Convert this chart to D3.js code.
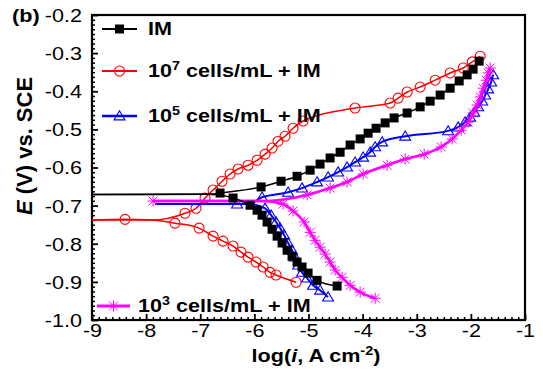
<!DOCTYPE html>
<html><head><meta charset="utf-8">
<script src="https://cdn.jsdelivr.net/npm/d3@7"></script>
<style>
html,body{margin:0;padding:0;background:#fff;}
svg text{font-family:"Liberation Sans",Arial,sans-serif;}
</style></head>
<body><svg id="chart" width="543" height="378"></svg>
<script>
// ---------------- data (log i [A cm-2], E [V vs SCE]) ----------------
const xTicks = [-9, -8, -7, -6, -5, -4, -3, -2, -1];
const yTicks = [-1.0, -0.9, -0.8, -0.7, -0.6, -0.5, -0.4, -0.3, -0.2];
const xTickLabels = ["-9", "-8", "-7", "-6", "-5", "-4", "-3", "-2", "-1"];
const yTickLabels = ["-1.0", "-0.9", "-0.8", "-0.7", "-0.6", "-0.5", "-0.4", "-0.3", "-0.2"];

const seriesNames = ["IM", "10^7 cells/mL + IM", "10^5 cells/mL + IM", "10^3 cells/mL + IM"];

// IM
const imFlat = [[-9, -0.671], [-6.8, -0.670]];
const imAnod = [[-6.634,-0.667],[-5.876,-0.651],[-5.507,-0.636],[-5.211,-0.623],[-4.970,-0.607],[-4.786,-0.591],[-4.601,-0.575],[-4.416,-0.560],[-4.231,-0.541],[-4.046,-0.525],[-3.898,-0.510],[-3.751,-0.497],[-3.584,-0.483],[-3.418,-0.470],[-3.178,-0.457],[-2.937,-0.441],[-2.752,-0.426],[-2.568,-0.410],[-2.383,-0.392],[-2.216,-0.373],[-2.069,-0.357],[-1.958,-0.342],[-1.847,-0.321]];
const imCath = [[-6.394,-0.680],[-6.080,-0.699],[-5.950,-0.712],[-5.858,-0.725],[-5.765,-0.743],[-5.673,-0.762],[-5.580,-0.780],[-5.488,-0.798],[-5.396,-0.817],[-5.304,-0.833],[-5.211,-0.848],[-5.119,-0.861],[-5.008,-0.877],[-4.841,-0.896],[-4.471,-0.911]];

// 10^7 cells/mL + IM
const c7Flat = [[-9, -0.738], [-7.9, -0.738]];
const c7Anod = [[-7.281,-0.720],[-7.078,-0.707],[-6.911,-0.680],[-6.763,-0.659],[-6.597,-0.636],[-6.449,-0.617],[-6.301,-0.604],[-6.116,-0.594],[-5.950,-0.581],[-5.802,-0.565],[-5.673,-0.549],[-5.562,-0.531],[-5.433,-0.518],[-5.285,-0.497],[-5.100,-0.478],[-4.139,-0.444],[-3.492,-0.431],[-3.344,-0.418],[-3.178,-0.402],[-2.937,-0.389],[-2.660,-0.371],[-2.383,-0.352],[-2.142,-0.339],[-1.976,-0.323],[-1.828,-0.308]];
const c7Cath = [[-8.390,-0.736],[-7.466,-0.746],[-7.022,-0.759],[-6.763,-0.780],[-6.579,-0.793],[-6.394,-0.806],[-6.246,-0.822],[-6.117,-0.835],[-5.969,-0.848],[-5.839,-0.861],[-5.710,-0.875],[-5.599,-0.882],[-5.229,-0.901]];

// 10^5 cells/mL + IM
const c5Flat = [[-7.835, -0.696], [-6.1, -0.696]];
const c5Anod = [[-6.320,-0.696],[-5.858,-0.678],[-5.377,-0.665],[-5.119,-0.654],[-4.841,-0.638],[-4.638,-0.625],[-4.453,-0.612],[-4.287,-0.599],[-4.139,-0.586],[-3.991,-0.573],[-3.862,-0.560],[-3.769,-0.546],[-3.640,-0.533],[-3.214,-0.518],[-2.420,-0.504],[-2.235,-0.494],[-2.106,-0.481],[-2.013,-0.468],[-1.939,-0.455],[-1.865,-0.441],[-1.791,-0.426],[-1.736,-0.410],[-1.680,-0.394],[-1.625,-0.376],[-1.588,-0.357]];
const c5Cath = [[-5.802,-0.707],[-5.691,-0.725],[-5.599,-0.743],[-5.525,-0.759],[-5.451,-0.777],[-5.377,-0.798],[-5.304,-0.817],[-5.248,-0.835],[-5.192,-0.856],[-5.119,-0.875],[-5.026,-0.890],[-4.915,-0.909],[-4.786,-0.922],[-4.638,-0.940]];

// 10^3 cells/mL + IM
const c3Flat = [[-7.872, -0.688], [-5.85, -0.688]];
const c3Anod = [[-7.872,-0.688],[-5.026,-0.672],[-4.601,-0.654],[-4.287,-0.638],[-3.991,-0.617],[-3.547,-0.594],[-3.214,-0.578],[-2.863,-0.565],[-2.549,-0.546],[-2.346,-0.525],[-2.179,-0.502],[-2.050,-0.481],[-1.958,-0.457],[-1.884,-0.436],[-1.828,-0.415],[-1.773,-0.392],[-1.717,-0.371],[-1.680,-0.352],[-1.643,-0.339]];
const c3Cath = [[-5.470,-0.696],[-5.285,-0.714],[-5.081,-0.743],[-4.970,-0.770],[-4.878,-0.791],[-4.786,-0.809],[-4.693,-0.827],[-4.601,-0.848],[-4.508,-0.869],[-4.379,-0.888],[-4.231,-0.909],[-4.046,-0.927],[-3.769,-0.943]];

// ---------------- drawing ----------------
const svg = d3.select("#chart");
const FONT = '"Liberation Sans",Arial,sans-serif';
const SX = 1.2; // horizontal stretch of text in reference

const x = d3.scaleLinear().domain([-9, -1]).range([92, 525]);
const y = d3.scaleLinear().domain([-1.0, -0.2]).range([320, 15]);

function minorVals(ticks) {
  const out = [];
  for (let i = 0; i < ticks.length - 1; i++) {
    const a = ticks[i], b = ticks[i + 1];
    for (let k = 1; k < 8; k++) out.push(a + (b - a) * k / 8);
  }
  return out;
}

// minor ticks
svg.append("g").attr("transform", "translate(0,320)")
  .call(d3.axisBottom(x).tickValues(minorVals(xTicks)).tickSize(-3).tickFormat(""))
  .call(g => { g.select(".domain").remove(); g.selectAll("line").attr("stroke-width", 1.5); });
svg.append("g").attr("transform", "translate(92,0)")
  .call(d3.axisLeft(y).tickValues(minorVals(yTicks)).tickSize(-3).tickFormat(""))
  .call(g => { g.select(".domain").remove(); g.selectAll("line").attr("stroke-width", 1.5); });

// major ticks + labels
const xa = svg.append("g").attr("transform", "translate(0,320)")
  .call(d3.axisBottom(x).tickValues(xTicks).tickSize(-6).tickPadding(4)
        .tickFormat((d, i) => xTickLabels[i]));
xa.select(".domain").remove();
xa.selectAll("line").attr("stroke-width", 1.8);
xa.selectAll("text").attr("font-size", 18).attr("font-family", FONT).attr("fill", "#000")
  .attr("transform", `scale(${SX},1)`);

const ya = svg.append("g").attr("transform", "translate(92,0)")
  .call(d3.axisLeft(y).tickValues(yTicks).tickSize(-6).tickPadding(8.3)
        .tickFormat((d, i) => yTickLabels[i]));
ya.select(".domain").remove();
ya.selectAll("line").attr("stroke-width", 1.8);
ya.selectAll("text").attr("font-size", 18).attr("font-family", FONT).attr("fill", "#000")
  .attr("dy", "0.36em").attr("transform", `scale(${SX},1)`);

// frame
svg.append("rect").attr("x", x(-9)).attr("y", y(-0.2))
  .attr("width", x(-1) - x(-9)).attr("height", y(-1.0) - y(-0.2))
  .attr("fill", "none").attr("stroke", "#000").attr("stroke-width", 2.2);

// symbol drawers
function drawMarker(g, type, cx, cy, color) {
  if (type === "square") {
    g.append("rect").attr("x", cx - 4.5).attr("y", cy - 4.5).attr("width", 9).attr("height", 9)
      .attr("fill", "#000");
  } else if (type === "circle") {
    g.append("circle").attr("cx", cx).attr("cy", cy).attr("r", 5)
      .attr("fill", "none").attr("stroke", color).attr("stroke-width", 1.1);
  } else if (type === "triangle") {
    const s = 5.2;
    g.append("path").attr("d", `M${cx},${cy - s}L${cx + s * 1.05},${cy + s * 0.75}L${cx - s * 1.05},${cy + s * 0.75}Z`)
      .attr("fill", "none").attr("stroke", color).attr("stroke-width", 1.1);
  } else if (type === "asterisk") {
    const s = 5.5;
    const d = `M${cx},${cy - s}V${cy + s}M${cx - s},${cy}H${cx + s}` +
      `M${cx - s * 0.8},${cy - s * 0.8}L${cx + s * 0.8},${cy + s * 0.8}` +
      `M${cx - s * 0.8},${cy + s * 0.8}L${cx + s * 0.8},${cy - s * 0.8}`;
    g.append("path").attr("d", d).attr("stroke", color).attr("stroke-width", 1).attr("fill", "none");
  }
}

const series = [
  { flat: c7Flat, anod: c7Anod, cath: c7Cath, color: "#ff0000", sym: "circle", lw: 1.5 },
  { flat: c5Flat, anod: c5Anod, cath: c5Cath, color: "#0000ff", sym: "triangle", lw: 2 },
  { flat: c3Flat, anod: c3Anod, cath: c3Cath, color: "#ff00ff", sym: "asterisk", lw: 2.6 },
  { flat: imFlat, anod: imAnod, cath: imCath, color: "#000000", sym: "square", lw: 1.5 }
];

const line = d3.line().x(d => x(d[0])).y(d => y(d[1])).curve(d3.curveMonotoneX);

function branchPath(flat, branch) {
  const pts = flat.concat(branch).sort((a, b) => a[0] - b[0]);
  const out = [];
  pts.forEach(p => { if (!out.length || Math.abs(out[out.length - 1][0] - p[0]) > 1e-9) out.push(p); });
  return out;
}

series.forEach(s => {
  const g = svg.append("g");
  [s.cath, s.anod].forEach(br => {
    g.append("path").attr("d", line(branchPath(s.flat, br)))
      .attr("fill", "none").attr("stroke", s.color).attr("stroke-width", s.lw)
      .attr("stroke-linejoin", "round");
  });
  s.cath.concat(s.anod).forEach(p => drawMarker(g, s.sym, x(p[0]), y(p[1]), s.color));
});

// legend
const legendRows = [
  { name: seriesNames[0], color: "#000", sym: "square", lw: 1.5, x1: 102, x2: 137, yy: 29, tx: 148 },
  { name: seriesNames[1], color: "#ff0000", sym: "circle", lw: 1.5, x1: 102, x2: 137, yy: 71, tx: 148 },
  { name: seriesNames[2], color: "#0000ff", sym: "triangle", lw: 2, x1: 102, x2: 137, yy: 116, tx: 148 },
  { name: seriesNames[3], color: "#ff00ff", sym: "asterisk", lw: 2.6, x1: 97, x2: 130, yy: 306, tx: 138 }
];
legendRows.forEach(r => {
  const g = svg.append("g");
  g.append("line").attr("x1", r.x1).attr("x2", r.x2).attr("y1", r.yy).attr("y2", r.yy)
    .attr("stroke", r.color).attr("stroke-width", r.lw + 0.5);
  drawMarker(g, r.sym, (r.x1 + r.x2) / 2, r.yy, r.color);
  const t = g.append("text").attr("transform", `translate(${r.tx},${r.yy + 6.4}) scale(${SX},1)`)
    .attr("font-size", 18).attr("font-weight", "bold").attr("fill", "#000");
  const m = r.name.match(/^10\^(\d)(.*)$/);
  if (m) {
    t.append("tspan").text("10");
    t.append("tspan").attr("font-size", 12).attr("dy", -7).text(m[1]);
    t.append("tspan").attr("dy", 7).text(m[2]);
  } else {
    t.text(r.name);
  }
});

// axis titles
const xt = svg.append("text").attr("transform", `translate(316,362) scale(${SX},1)`)
  .attr("text-anchor", "middle").attr("font-size", 18).attr("font-weight", "bold");
xt.append("tspan").text("log(");
xt.append("tspan").attr("font-style", "italic").text("i");
xt.append("tspan").text(", A cm");
xt.append("tspan").attr("font-size", 12).attr("dy", -7).text("-2");
xt.append("tspan").attr("dy", 7).text(")");

const yt = svg.append("text").attr("transform", "translate(32,146) rotate(-90)")
  .attr("text-anchor", "middle").attr("font-size", 22).attr("font-weight", "bold");
yt.append("tspan").attr("font-style", "italic").text("E");
yt.append("tspan").text(" (V) vs. SCE");

// panel label
svg.append("text").attr("transform", `translate(12,22) scale(${SX},1)`)
  .attr("font-size", 18).attr("font-weight", "bold").text("(b)");
</script>
</body></html>
